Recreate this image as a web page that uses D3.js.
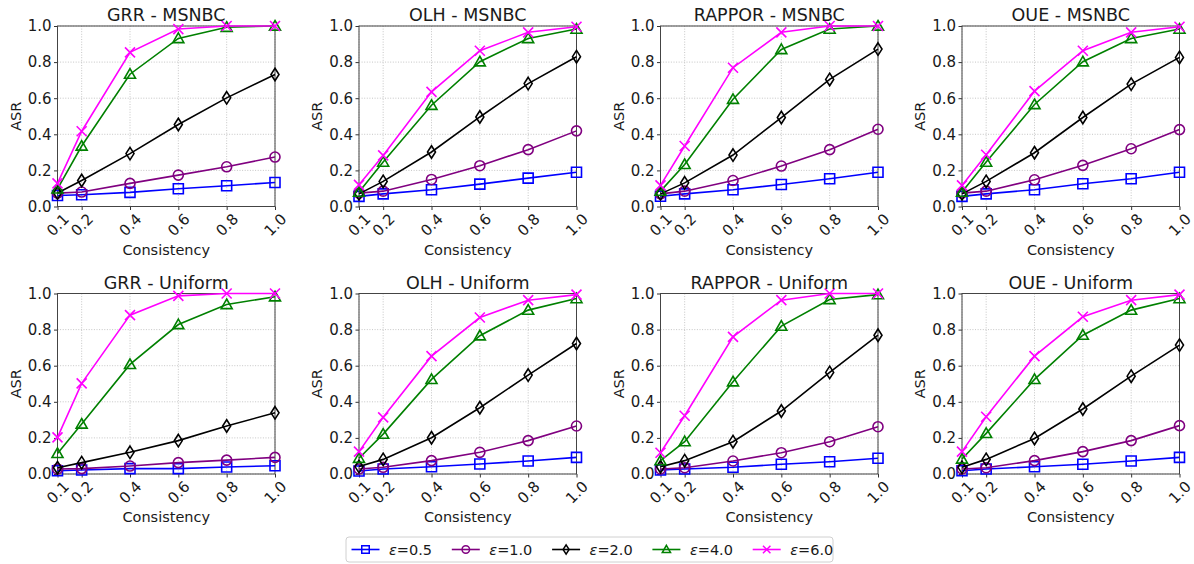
<!DOCTYPE html>
<html><head><meta charset="utf-8">
<script src="https://cdn.jsdelivr.net/npm/d3@7"></script>
<style>body{margin:0;background:#fff;} text{font-family:"DejaVu Sans",sans-serif;fill:#1a1a1a;}</style>
</head><body>
<svg id="c" width="1194" height="564"></svg>
<script>
const consistency = [0.1, 0.2, 0.4, 0.6, 0.8, 1.0];
const xTicks = ["0.1", "0.2", "0.4", "0.6", "0.8", "1.0"];
const yTicks = [0, 0.2, 0.4, 0.6, 0.8, 1.0];
const epsilons = ["0.5", "1.0", "2.0", "4.0", "6.0"];
const colors = ["#0000ff", "#800080", "#000000", "#008000", "#ff00ff"];
const markers = ["square", "circle", "thin_diamond", "triangle", "x"];
const titles = ["GRR - MSNBC", "OLH - MSNBC", "RAPPOR - MSNBC", "OUE - MSNBC",
                "GRR - Uniform", "OLH - Uniform", "RAPPOR - Uniform", "OUE - Uniform"];

// each: rows per epsilon (0.5, 1.0, 2.0, 4.0, 6.0), values per consistency
const grrMsnbc = [
  [0.061, 0.065, 0.078, 0.098, 0.115, 0.133],
  [0.074, 0.080, 0.128, 0.174, 0.220, 0.274],
  [0.075, 0.144, 0.293, 0.454, 0.602, 0.731],
  [0.098, 0.335, 0.733, 0.931, 0.993, 1.000],
  [0.128, 0.417, 0.854, 0.983, 1.000, 1.000]];
const olhMsnbc = [
  [0.056, 0.070, 0.093, 0.124, 0.157, 0.190],
  [0.074, 0.085, 0.150, 0.226, 0.315, 0.419],
  [0.070, 0.139, 0.302, 0.496, 0.681, 0.830],
  [0.080, 0.246, 0.561, 0.802, 0.931, 0.983],
  [0.120, 0.283, 0.635, 0.863, 0.965, 0.996]];
const rapporMsnbc = [
  [0.057, 0.070, 0.093, 0.122, 0.154, 0.190],
  [0.070, 0.085, 0.144, 0.224, 0.315, 0.428],
  [0.070, 0.131, 0.285, 0.493, 0.704, 0.872],
  [0.085, 0.233, 0.594, 0.870, 0.983, 1.000],
  [0.117, 0.335, 0.769, 0.965, 1.000, 1.000]];
const oueMsnbc = [
  [0.056, 0.070, 0.093, 0.126, 0.154, 0.190],
  [0.074, 0.085, 0.148, 0.228, 0.320, 0.426],
  [0.070, 0.139, 0.298, 0.493, 0.678, 0.826],
  [0.080, 0.246, 0.565, 0.802, 0.931, 0.983],
  [0.117, 0.287, 0.639, 0.863, 0.965, 0.996]];
const grrUniform = [
  [0.018, 0.022, 0.030, 0.030, 0.039, 0.046],
  [0.028, 0.030, 0.044, 0.063, 0.077, 0.092],
  [0.035, 0.063, 0.120, 0.185, 0.266, 0.339],
  [0.114, 0.277, 0.607, 0.828, 0.939, 0.982],
  [0.203, 0.502, 0.880, 0.987, 1.000, 1.000]];
const olhUniform = [
  [0.017, 0.028, 0.040, 0.055, 0.072, 0.092],
  [0.028, 0.037, 0.074, 0.120, 0.185, 0.266],
  [0.041, 0.081, 0.201, 0.367, 0.548, 0.723],
  [0.087, 0.221, 0.524, 0.766, 0.908, 0.972],
  [0.124, 0.314, 0.653, 0.867, 0.963, 0.994]];
const rapporUniform = [
  [0.022, 0.028, 0.037, 0.054, 0.068, 0.087],
  [0.028, 0.035, 0.072, 0.118, 0.179, 0.262],
  [0.040, 0.074, 0.179, 0.349, 0.563, 0.769],
  [0.074, 0.179, 0.511, 0.819, 0.967, 0.994],
  [0.118, 0.323, 0.760, 0.963, 1.000, 1.000]];
const oueUniform = [
  [0.018, 0.028, 0.040, 0.054, 0.072, 0.092],
  [0.028, 0.035, 0.074, 0.124, 0.185, 0.268],
  [0.037, 0.081, 0.197, 0.360, 0.542, 0.714],
  [0.083, 0.225, 0.524, 0.769, 0.908, 0.972],
  [0.124, 0.317, 0.653, 0.871, 0.963, 0.994]];
const panels = [grrMsnbc, olhMsnbc, rapporMsnbc, oueMsnbc, grrUniform, olhUniform, rapporUniform, oueUniform];

const svg = d3.select("#c");
const W = 217.5, H = 180.5;

function markerPath(type, s) {
  const r = s / 2;
  switch (type) {
    case "square": return `M${-r},${-r}H${r}V${r}H${-r}Z`;
    case "circle": { const p = d3.path(); p.arc(0, 0, r, 0, 2 * Math.PI); p.closePath(); return p.toString(); }
    case "thin_diamond": { const h = r * 1.25, w = r * 0.8; return `M0,${-h}L${w},0L0,${h}L${-w},0Z`; }
    case "triangle": { const h = r * 1.1; return `M0,${-h}L${h},${h * 0.75}L${-h},${h * 0.75}Z`; }
    case "x": return `M${-r},${-r}L${r},${r}M${-r},${r}L${r},${-r}`;
  }
}

panels.forEach((data, i) => {
  const col = i % 4, row = Math.floor(i / 4);
  const left = 57.5 + col * 301.5, top = 26 + row * 267.5;
  const g = svg.append("g").attr("transform", `translate(${left},${top})`);
  const x = d3.scaleLinear().domain([0.1, 1.0]).range([0, W]);
  const y = d3.scaleLinear().domain([0, 1]).range([H, 0]);

  // grid
  g.append("g").selectAll("line").data(consistency).join("line")
    .attr("x1", d => x(d)).attr("x2", d => x(d)).attr("y1", 0).attr("y2", H)
    .attr("stroke", "#b8b8b8").attr("stroke-width", 0.8).attr("stroke-dasharray", "1,1.6");
  g.append("g").selectAll("line").data(yTicks).join("line")
    .attr("y1", d => y(d)).attr("y2", d => y(d)).attr("x1", 0).attr("x2", W)
    .attr("stroke", "#b8b8b8").attr("stroke-width", 0.8).attr("stroke-dasharray", "1,1.6");

  // axes
  const ya = d3.axisLeft(y).tickValues(yTicks).tickFormat(d3.format(".1f")).tickSize(3.5).tickPadding(2.5);
  const yg = g.append("g").call(ya);
  yg.select(".domain").remove();
  yg.selectAll("line").attr("stroke", "#333");
  yg.selectAll("text").style("font-size", "15px").attr("fill", "#1a1a1a");

  const xa = d3.axisBottom(x).tickValues(consistency).tickFormat((d, k) => xTicks[k]).tickSize(3.5);
  const xg = g.append("g").attr("transform", `translate(0,${H})`).call(xa);
  xg.select(".domain").remove();
  xg.selectAll("line").attr("stroke", "#333");
  xg.selectAll("text").style("font-size", "15px").attr("fill", "#1a1a1a")
    .attr("y", 0).attr("dy", null)
    .attr("text-anchor", "middle").attr("dominant-baseline", "central")
    .attr("transform", "translate(0,18.5) rotate(-45)");

  // frame
  g.append("rect").attr("width", W).attr("height", H).attr("fill", "none")
    .attr("stroke", "#444").attr("stroke-width", 1);

  // series
  const line = d3.line().x((d, k) => x(consistency[k])).y(d => y(d));
  data.forEach((vals, s) => {
    g.append("path").attr("d", line(vals)).attr("fill", "none")
      .attr("stroke", colors[s]).attr("stroke-width", 1.6);
    g.append("g").selectAll("path").data(vals).join("path")
      .attr("transform", (d, k) => `translate(${x(consistency[k])},${y(d)})`)
      .attr("d", markerPath(markers[s], 10))
      .attr("fill", "none").attr("stroke", colors[s]).attr("stroke-width", 1.6);
  });

  // labels
  g.append("text").attr("x", W / 2).attr("y", -5).attr("text-anchor", "middle")
    .style("font-size", "17.5px").text(titles[i]);
  g.append("text").attr("transform", `translate(-42,${H / 2}) rotate(-90)`)
    .attr("text-anchor", "middle").attr("dominant-baseline", "central")
    .style("font-size", "14.5px").text("ASR");
  g.append("text").attr("x", W / 2).attr("y", H + 43).attr("text-anchor", "middle")
    .attr("dominant-baseline", "central").style("font-size", "14.5px").text("Consistency");
});

// legend
const lg = svg.append("g");
lg.append("rect").attr("x", 346).attr("y", 537).attr("width", 487).attr("height", 25)
  .attr("rx", 3).attr("fill", "#fff").attr("stroke", "#d0d0d0").attr("stroke-width", 1);
epsilons.forEach((e, s) => {
  const x0 = 351.5 + s * 100.3, yc = 549.5;
  lg.append("line").attr("x1", x0).attr("x2", x0 + 28).attr("y1", yc).attr("y2", yc)
    .attr("stroke", colors[s]).attr("stroke-width", 1.6);
  lg.append("path").attr("transform", `translate(${x0 + 14},${yc})`)
    .attr("d", markerPath(markers[s], 7.5)).attr("fill", "none")
    .attr("stroke", colors[s]).attr("stroke-width", 1.5);
  const t = lg.append("text").attr("x", x0 + 37.5).attr("y", yc).attr("dominant-baseline", "central")
    .style("font-size", "14.5px");
  t.append("tspan").style("font-style", "italic").text("ε");
  t.append("tspan").text("=" + e);
});
</script>
</body></html>
